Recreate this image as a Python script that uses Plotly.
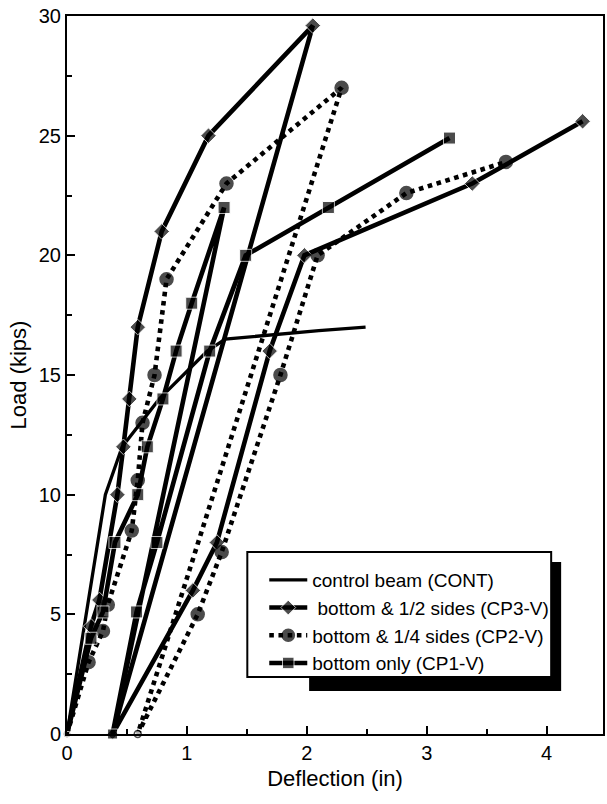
import plotly.graph_objects as go

# ---- data ----
cont_x = [0, 0.32, 0.46, 0.77, 1.17, 1.32, 2.1, 2.49]
cont_y = [0, 10, 12, 14, 16, 16.5, 16.85, 17.0]

cp3_x = [0, 0.20, 0.27, 0.42, 0.47, 0.52, 0.59, 0.79, 1.18, 2.05, 0.38, 1.05, 1.25, 1.69, 1.98, 3.38, 4.30]
cp3_y = [0, 4.5, 5.6, 10.0, 12.0, 14.0, 17.0, 21.0, 25.0, 29.6, 0, 6.0, 8.0, 16.0, 20.0, 23.0, 25.6]

cp2_x = [0, 0.18, 0.30, 0.34, 0.54, 0.59, 0.63, 0.73, 0.83, 1.33, 2.29, 0.59, 1.09, 1.29, 1.78, 2.09, 2.83, 3.66]
cp2_y = [0, 3.0, 4.3, 5.4, 8.5, 10.6, 13.0, 15.0, 19.0, 23.0, 27.0, 0, 5.0, 7.6, 15.0, 20.0, 22.6, 23.9]

cp1_x = [0, 0.20, 0.30, 0.40, 0.59, 0.67, 0.80, 0.91, 1.04, 1.31, 0.38, 0.58, 0.75, 1.19, 1.49, 2.18, 3.19]
cp1_y = [0, 4.0, 5.1, 8.0, 10.0, 12.0, 14.0, 16.0, 18.0, 22.0, 0, 5.1, 8.0, 16.0, 20.0, 22.0, 24.9]

names = ["control beam (CONT)", " bottom & 1/2 sides (CP3-V)",
         "bottom & 1/4 sides (CP2-V)", "bottom only (CP1-V)"]

FONT = "Liberation Sans, Arial, sans-serif"

fig = go.Figure()

fig.add_trace(go.Scatter(x=cont_x, y=cont_y, mode="lines", name=names[0],
                         line=dict(color="black", width=3.3), cliponaxis=False))


def sizes(ys, big, zero_first=5, zero_other=None):
    out = []
    for i, v in enumerate(ys):
        if v == 0:
            out.append(zero_first if i == 0 else (zero_other or big))
        else:
            out.append(big)
    return out


fig.add_trace(go.Scatter(x=cp3_x, y=cp3_y, mode="lines+markers", name=names[1],
                         line=dict(color="black", width=4.6),
                         marker=dict(symbol="diamond", color="black",
                                     size=sizes(cp3_y, 12, 5, 9)),
                         cliponaxis=False))

cp2_colors = ["white" if (v == 0 and i > 0) else "black" for i, v in enumerate(cp2_y)]
fig.add_trace(go.Scatter(x=cp2_x, y=cp2_y, mode="lines+markers", name=names[2],
                         line=dict(color="black", width=4.6, dash="dot"),
                         marker=dict(symbol="circle", color=cp2_colors,
                                     size=sizes(cp2_y, 13, 5, 7),
                                     line=dict(color="black", width=1.5)),
                         cliponaxis=False))

fig.add_trace(go.Scatter(x=cp1_x, y=cp1_y, mode="lines+markers", name=names[3],
                         line=dict(color="black", width=4.6),
                         marker=dict(symbol="square", color="black",
                                     size=sizes(cp1_y, 12, 5, 10)),
                         cliponaxis=False))

# legend drop shadow and framed box
fig.add_shape(type="rect", xref="paper", yref="paper",
              x0=0.4517, x1=0.9219, y0=0.0599, y1=0.2396,
              fillcolor="black", line=dict(width=0), layer="above")
fig.add_shape(type="rect", xref="paper", yref="paper",
              x0=0.3364, x1=0.9033, y0=0.0794, y1=0.2535,
              fillcolor="white", line=dict(color="black", width=2), layer="above")

fig.update_layout(
    width=607, height=804,
    margin=dict(l=67, r=2, t=16, b=70),
    paper_bgcolor="white", plot_bgcolor="white",
    font=dict(family=FONT, color="black", size=20),
    showlegend=True,
    legend=dict(x=(265 - 67) / 538, y=(734 - 561) / 718, xanchor="left", yanchor="top",
                bgcolor="rgba(0,0,0,0)", borderwidth=0,
                font=dict(family=FONT, size=19, color="black"),
                itemwidth=38, tracegroupgap=0),
    xaxis=dict(range=[0, 4.47], dtick=1, tick0=0, showgrid=False, zeroline=False,
               showline=True, linecolor="black", linewidth=2, mirror=True,
               ticks="inside", ticklen=8, tickwidth=2, tickcolor="black",
               minor=dict(dtick=0.5, ticks="inside", ticklen=5, tickwidth=1.5, tickcolor="black"),
               tickfont=dict(size=20),
               title=dict(text="Deflection (in)", font=dict(size=22), standoff=8)),
    yaxis=dict(range=[0, 30], dtick=5, tick0=0, showgrid=False, zeroline=False,
               showline=True, linecolor="black", linewidth=2, mirror=True,
               ticks="inside", ticklen=8, tickwidth=2, tickcolor="black",
               minor=dict(dtick=2.5, ticks="inside", ticklen=5, tickwidth=1.5, tickcolor="black"),
               tickfont=dict(size=20),
               title=dict(text="Load (kips)", font=dict(size=22), standoff=6)),
)

fig.write_html("out.html")
